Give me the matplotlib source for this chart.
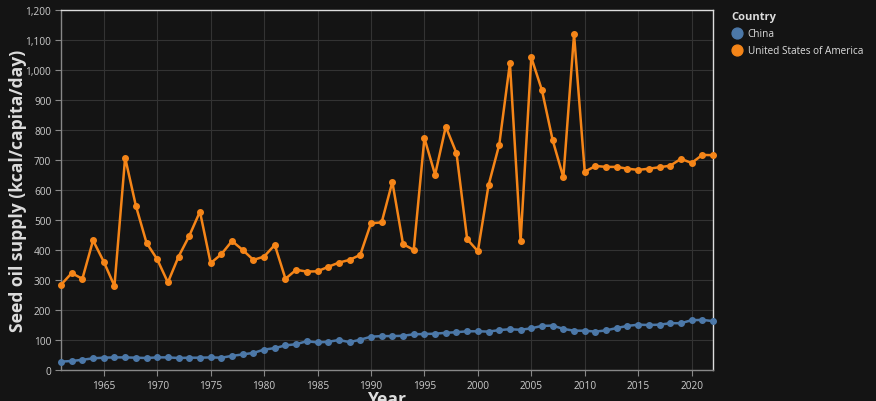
import matplotlib
matplotlib.use("Agg")
import matplotlib.pyplot as plt
from matplotlib.lines import Line2D

plt.rcParams['font.family'] = ['Open Sans', 'DejaVu Sans']

# Datos
years = list(range(1961, 2023))

china = [28, 30, 34, 39, 41, 42, 42, 41, 40, 42,
         42, 40, 41, 41, 42, 41, 47, 52, 57, 68,
         73, 82, 86, 96, 92, 94, 100, 93, 101, 111,
         113, 113, 114, 119, 120, 121, 124, 126, 129, 129,
         128, 133, 136, 134, 139, 147, 148, 137, 131, 131,
         128, 132, 140, 147, 151, 150, 151, 156, 156, 166,
         167, 163]

usa = [284, 323, 304, 432, 361, 280, 708, 548, 424, 369,
       292, 378, 447, 528, 356, 386, 430, 400, 367, 378,
       417, 304, 334, 328, 329, 344, 358, 367, 384, 489,
       492, 627, 420, 400, 773, 651, 811, 723, 436, 396,
       616, 751, 1023, 431, 1042, 932, 766, 642, 1119, 661,
       680, 677, 677, 671, 667, 671, 676, 681, 704, 690,
       717, 716]

series = [("China", china, "#4c78a8"),
          ("United States of America", usa, "#f58518")]

y_ticks = list(range(0, 1201, 100))
x_ticks = list(range(1965, 2021, 5))

bg = "#141414"
W, H = 876, 402
fig = plt.figure(figsize=(W / 100, H / 100), dpi=100, facecolor=bg)
ax = fig.add_axes([61 / W, 31 / H, 652 / W, 360 / H], facecolor=bg)

for name, vals, col in series:
    ax.plot(years, vals, color=col, linewidth=1.8, marker="o", markersize=4,
            zorder=3, clip_on=False)

ax.set_xlim(1961, 2022)
ax.set_ylim(0, 1200)
ax.set_xticks(x_ticks)
ax.set_yticks(y_ticks)
ax.set_yticklabels([f"{v:,}" for v in y_ticks])
ax.grid(True, color="#333333", linewidth=0.8)
ax.set_axisbelow(True)

ax.tick_params(colors="#888888", labelcolor="#cccccc", labelsize=7.3, length=4, width=0.8, pad=3)
for s in ["left", "bottom"]:
    ax.spines[s].set_color("#888888")
for s in ["top", "right"]:
    ax.spines[s].set_color("#dddddd")
for s in ax.spines.values():
    s.set_linewidth(1)

# Titulos de los ejes
fig.text(18 / W, 1 - 191 / H, "Seed oil supply (kcal/capita/day)", color="#dddddd",
         fontsize=12.6, fontweight="bold", rotation=90, ha="center", va="center")
fig.text(387 / W, 1 - 391 / H, "Year", color="#dddddd",
         fontsize=12.6, fontweight="bold", ha="center", va="top")

# Leyenda
handles = [Line2D([], [], linestyle="none", marker="o", markersize=7.8, color=c)
           for _, _, c in series]
leg = fig.legend(handles, [n for n, _, _ in series], title="Country",
                 loc="upper left", bbox_to_anchor=(731 / W, 1 - 12 / H),
                 frameon=False, fontsize=7.2, title_fontsize=8,
                 handletextpad=0.45, labelspacing=0.6, borderaxespad=0,
                 borderpad=0, handlelength=1.2, labelcolor="#dddddd")
leg.get_title().set_color("#dddddd")
leg.get_title().set_fontweight("bold")
leg._legend_box.align = "left"

fig.savefig("out.png", dpi=100, facecolor=bg)
